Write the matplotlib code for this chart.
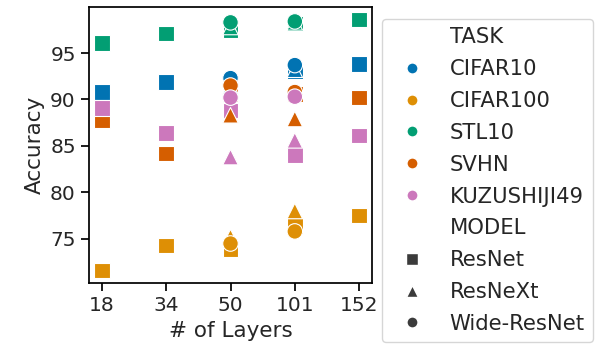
import numpy as np
import pandas as pd
import matplotlib
matplotlib.use("Agg")
import matplotlib.pyplot as plt
from matplotlib.lines import Line2D
import seaborn as sns

tasks = ['CIFAR10', 'CIFAR100', 'STL10', 'SVHN', 'KUZUSHIJI49']
models = ['ResNet', 'ResNeXt', 'Wide-ResNet']
markers = {'ResNet': 's', 'ResNeXt': '^', 'Wide-ResNet': 'o'}

# accuracy per task, one list per model (layer order as in the layer lists)
resnet_layers = ['18', '34', '50', '101', '152']
resnet_acc = {
    'CIFAR10':     [90.8, 91.9, 91.0, 93.0, 93.8],
    'CIFAR100':    [71.6, 74.3, 73.9, 76.4, 77.5],
    'STL10':       [96.1, 97.1, 97.5, 98.2, 98.6],
    'SVHN':        [87.8, 84.2, 90.6, 90.6, 90.2],
    'KUZUSHIJI49': [89.1, 86.4, 88.8, 84.0, 86.1],
}
resnext_layers = ['50', '101']
resnext_acc = {
    'CIFAR10':     [91.4, 93.2],
    'CIFAR100':    [75.2, 78.0],
    'STL10':       [97.8, 98.3],
    'SVHN':        [88.3, 87.9],
    'KUZUSHIJI49': [83.8, 85.6],
}
wide_layers = ['50', '101']
wide_acc = {
    'CIFAR10':     [92.3, 93.7],
    'CIFAR100':    [74.5, 75.8],
    'STL10':       [98.3, 98.4],
    'SVHN':        [91.5, 90.8],
    'KUZUSHIJI49': [90.2, 90.3],
}

rows = []
for model, layers, acc in [('ResNet', resnet_layers, resnet_acc),
                           ('ResNeXt', resnext_layers, resnext_acc),
                           ('Wide-ResNet', wide_layers, wide_acc)]:
    for task in tasks:
        for l, a in zip(layers, acc[task]):
            rows.append({'LAYERS': l, 'TASK': task, 'MODEL': model, 'ACC': a})
df = pd.DataFrame(rows)

sns.set_style('ticks')
palette = sns.color_palette('colorblind', len(tasks))
colors = dict(zip(tasks, palette))

fig = plt.figure(figsize=(5.95, 3.58), dpi=100)
ax = fig.add_axes([0.1496, 0.2095, 0.4756, 0.7709])
ax.plot(resnet_layers, [np.nan] * len(resnet_layers))  # fix category order on x

sns.scatterplot(data=df, x='LAYERS', y='ACC', hue='TASK', style='MODEL',
                hue_order=tasks, style_order=models, markers=markers,
                palette=colors, s=125, edgecolor='white', linewidth=0.8,
                legend=False, ax=ax)

for sp in ax.spines.values():
    sp.set_linewidth(1.25)
    sp.set_color('black')
ax.tick_params(labelsize=14.5, width=1.25, length=6, color='black')
ax.set_yticks([75, 80, 85, 90, 95])
ax.set_xlabel('# of Layers', fontsize=15.5)
ax.set_ylabel('Accuracy', fontsize=15.5)

blank = Line2D([], [], linestyle='none', marker='')
handles = [blank]
labels = ['TASK']
for t in tasks:
    handles.append(Line2D([], [], linestyle='none', marker='o', markersize=8,
                          color=colors[t], markeredgecolor='white'))
    labels.append(t)
handles.append(blank)
labels.append('MODEL')
for m in models:
    handles.append(Line2D([], [], linestyle='none', marker=markers[m], markersize=8,
                          color='#3b3b3b', markeredgecolor='white'))
    labels.append(m)

fig.legend(handles, labels, loc='upper left', bbox_to_anchor=(0.642, 0.947),
           borderaxespad=0, fontsize=15.2, frameon=True, labelspacing=0.56,
           handletextpad=0.8, edgecolor='#cccccc', fancybox=True)

fig.savefig('out.png', dpi=100)
